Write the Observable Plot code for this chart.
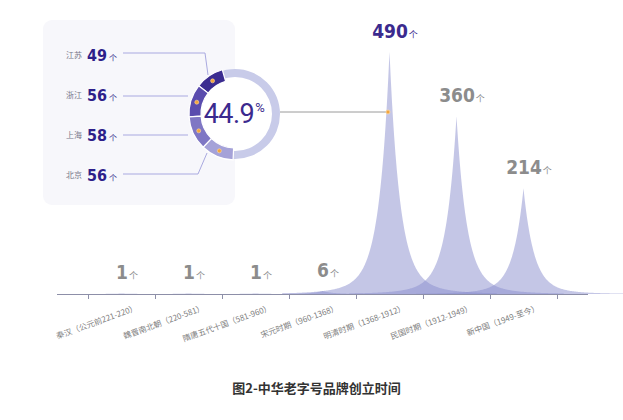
<!DOCTYPE html>
<html><head><meta charset="utf-8">
<script src="https://cdn.jsdelivr.net/npm/d3@7"></script>
<script src="https://cdn.jsdelivr.net/npm/@observablehq/plot@0.6"></script>
<style>
body{margin:0;background:#fff;width:623px;height:420px;overflow:hidden;font-family:"Noto Sans CJK SC",sans-serif;position:relative}
#title{position:absolute;top:379px;left:5px;width:623px;text-align:center;font-size:13px;font-weight:bold;color:#333;line-height:18px;font-family:"Noto Sans CJK SC",sans-serif}
</style></head><body>
<div id="chart"></div>
<div id="title">图2-中华老字号品牌创立时间</div>
<script>
// ---- data ----
const periods = ["秦汉（公元前221-220）","魏晋南北朝（220-581）","隋唐五代十国（581-960）","宋元时期（960-1368）","明清时期（1368-1912）","民国时期（1912-1949）","新中国（1949-至今）"];
const counts = [1, 1, 1, 6, 490, 360, 214];
const unitLabel = "个";
const regions = ["江苏", "浙江", "上海", "北京"];
const regionCounts = [49, 56, 58, 56];
const regionShare = 44.9; // percent of the 明清时期 total
const shareLabel = "44.9";
const regionColors = ["#3b2c90", "#5a4cae", "#7f77c4", "#a5a2d8"];

// ---- spike glyph (shape of each period's peak) ----
function spikeShape(d) { d = Math.abs(d); return 0.9 * Math.exp(-d / 0.15) + 0.1 * Math.exp(-d / 0.45); }
const offsets = d3.range(-1.6, 1.6001, 0.01);
const spikes = counts.flatMap((v, i) => [
  {period: periods[i], x: i - 1.6, y: 0},
  ...offsets.map(t => ({period: periods[i], x: i + t, y: v * spikeShape(t)})),
  {period: periods[i], x: i + 1.6, y: 0}
]);
const maxCount = d3.max(counts);
const labelRows = counts.map((v, i) => ({i, v, period: periods[i]}));

const chart = Plot.plot({
  width: 623, height: 372,
  marginLeft: 57, marginRight: 36, marginTop: 52, marginBottom: 78,
  x: {domain: [-0.963, 6.948], ticks: d3.range(-0.5, 7, 1), tickFormat: () => "", tickSize: 5, line: true, label: null},
  y: {domain: [0, maxCount], axis: null},
  style: {color: "#8d8fa8", background: "transparent", overflow: "visible"},
  marks: [
    ...periods.map(p => Plot.areaY(spikes.filter(d => d.period === p),
      {x: "x", y1: () => 0, y2: "y", fill: "#898dcd", fillOpacity: 0.5, curve: "linear"})),
    Plot.text(labelRows, {x: "i", y: () => 0, text: "period", rotate: -20, textAnchor: "end", dx: 15, dy: 13,
      fontSize: 8, fill: "#808080", fontFamily: "Noto Sans CJK SC"}),
    Plot.text(labelRows.filter(d => d.v !== maxCount), {x: "i", y: "v", text: d => String(d.v), dy: -21, dx: 5,
      fill: "#8c8c8c", fontSize: 19, fontWeight: "bold", fontFamily: "DejaVu Sans Condensed"}),
    Plot.text(labelRows.filter(d => d.v === maxCount), {x: "i", y: "v", text: d => String(d.v), dy: -21, dx: 5,
      fill: "#3b2a8e", fontSize: 19, fontWeight: "bold", fontFamily: "DejaVu Sans Condensed"})
  ]
});
document.getElementById("chart").appendChild(chart);

const svg = d3.select(chart);
const countStrings = new Set(counts.map(String));
svg.selectAll("text").filter(function() {
  return countStrings.has(this.textContent) && this.closest('[font-size="19"]');
}).each(function() {
  d3.select(this).append("tspan").attr("dx", 1).attr("font-size", 9).attr("font-weight", "normal")
    .attr("font-family", "Noto Sans CJK SC").text(unitLabel);
});

// ---- left panel with donut ----
const sx = chart.scale("x");
const cx = 235, cy = 114;
const panel = svg.append("g").attr("text-anchor", "start");
panel.append("rect").attr("x", 43).attr("y", 20).attr("width", 192).attr("height", 185).attr("rx", 9).attr("fill", "#f7f7fb");

// connector to the 明清 peak
const peakX = sx.apply(counts.indexOf(maxCount));
panel.append("line").attr("x1", cx + 45).attr("x2", peakX - 1.5).attr("y1", cy - 2).attr("y2", cy - 2)
  .attr("stroke", "#9a9a9a").attr("stroke-width", 1);
panel.append("circle").attr("cx", peakX - 1.5).attr("cy", cy - 2).attr("r", 2).attr("fill", "#f4a53b").attr("stroke", "#fbd9a6").attr("stroke-width", 0.8);

panel.append("circle").attr("cx", cx).attr("cy", cy).attr("r", 45).attr("fill", "#fff");
const arcRing = d3.arc().innerRadius(37).outerRadius(45);
panel.append("path").attr("transform", `translate(${cx},${cy})`)
  .attr("d", arcRing({startAngle: 0, endAngle: 2 * Math.PI})).attr("fill", "#c8cbe9");

const total = d3.sum(regionCounts) / (regionShare / 100);
const segArc = d3.arc().innerRadius(34).outerRadius(46);
let end = -16 * Math.PI / 180;
const segs = regionCounts.map((v, k) => {
  const a = v / total * 2 * Math.PI;
  const s = {startAngle: end - a, endAngle: end, k};
  end -= a;
  return s;
});
const gd = panel.append("g").attr("transform", `translate(${cx},${cy})`);
gd.selectAll("path.seg").data(segs).join("path").attr("d", segArc)
  .attr("fill", d => regionColors[d.k]).attr("stroke", "#fff").attr("stroke-width", 1.2);
gd.selectAll("circle.dot").data(segs).join("circle")
  .attr("cx", d => 40 * Math.sin((d.startAngle + d.endAngle) / 2))
  .attr("cy", d => -40 * Math.cos((d.startAngle + d.endAngle) / 2))
  .attr("r", 2).attr("fill", "#f4a53b").attr("stroke", "#fbd9a6").attr("stroke-width", 0.6);

const share = panel.append("text").attr("x", cx - 1).attr("y", cy + 9).attr("text-anchor", "middle")
  .attr("font-family", "Roboto").attr("font-weight", 400).attr("font-size", 27).attr("letter-spacing", -0.5)
  .attr("fill", "#3b2a8e").text(shareLabel);
share.append("tspan").attr("font-size", 13).attr("dy", -11).attr("dx", 1).text("%");

// region rows
const rowY = [55, 95, 135, 175];
const leaders = [
  [[123, 53], [205, 53], [208, 75]],
  [[123, 96], [188, 96]],
  [[123, 135], [188, 135]],
  [[123, 174], [198, 174], [207, 153]]
];
regions.forEach((r, k) => {
  panel.append("path").attr("d", d3.line()(leaders[k])).attr("fill", "none").attr("stroke", "#a9a9e0").attr("stroke-width", 1);
  panel.append("text").attr("x", 66).attr("y", rowY[k]).attr("dy", "0.35em").attr("font-size", 8)
    .attr("text-anchor", "start").attr("fill", "#77778a").attr("font-family", "Noto Sans CJK SC").text(r);
  const t = panel.append("text").attr("x", 87).attr("y", rowY[k]).attr("dy", "0.36em").attr("text-anchor", "start")
    .attr("font-size", 16).attr("font-weight", "bold").attr("font-family", "DejaVu Sans Condensed")
    .attr("fill", "#2e1f8a").text(regionCounts[k]);
  t.append("tspan").attr("dx", 2).attr("font-size", 8).attr("font-weight", "normal").attr("font-family", "Noto Sans CJK SC").text(unitLabel);
});
</script>
</body></html>
